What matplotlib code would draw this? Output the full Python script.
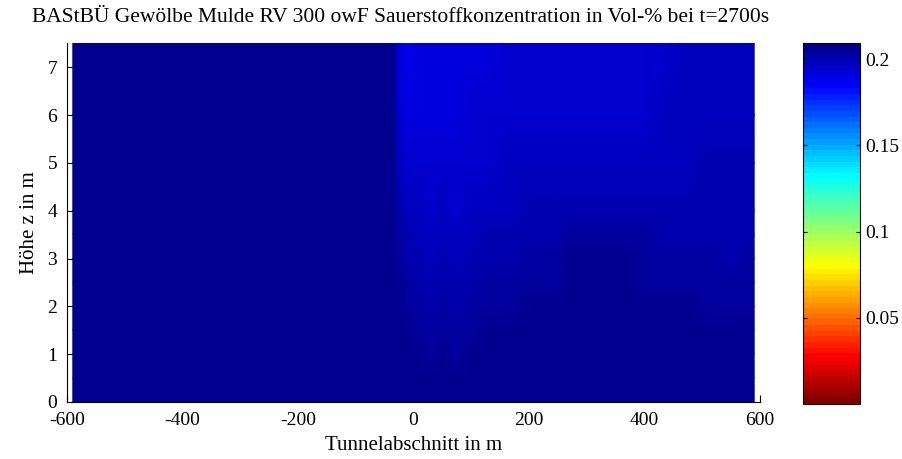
import numpy as np
import matplotlib
matplotlib.use("Agg")
import matplotlib.pyplot as plt
from matplotlib.colors import ListedColormap, Normalize

# Tunnel position (m) and height (m) of the sampling grid
x_m = [-590, -35, -25, -10, 10, 30, 50, 75, 100, 130, 170, 210, 250, 270,
       320, 370, 400, 440, 470, 510, 550, 590]
z_m = [0.0, 0.5, 1.0, 1.5, 2.0, 2.5, 3.0, 3.5, 4.0, 5.0, 6.0, 7.5]

# Oxygen concentration (volume fraction), one row per height
o2_z00 = [0.2093, 0.2093, 0.2091, 0.2089, 0.2086, 0.2085, 0.2086, 0.2084, 0.2085, 0.2086, 0.2087,
          0.2087, 0.2088, 0.2088, 0.2089, 0.2089, 0.2088, 0.2088, 0.2087, 0.2087, 0.2086, 0.2086]
o2_z05 = [0.2093, 0.2093, 0.2089, 0.2085, 0.2079, 0.2076, 0.2078, 0.2075, 0.2077, 0.2080, 0.2082,
          0.2083, 0.2085, 0.2086, 0.2087, 0.2086, 0.2085, 0.2084, 0.2083, 0.2083, 0.2082, 0.2082]
o2_z10 = [0.2093, 0.2092, 0.2085, 0.2076, 0.2064, 0.2050, 0.2063, 0.2048, 0.2066, 0.2072, 0.2075,
          0.2077, 0.2080, 0.2082, 0.2083, 0.2081, 0.2079, 0.2078, 0.2077, 0.2076, 0.2075, 0.2075]
o2_z15 = [0.2093, 0.2092, 0.2079, 0.2065, 0.2044, 0.2031, 0.2040, 0.2028, 0.2046, 0.2062, 0.2068,
          0.2071, 0.2075, 0.2078, 0.2079, 0.2076, 0.2073, 0.2071, 0.2070, 0.2068, 0.2066, 0.2067]
o2_z20 = [0.2093, 0.2091, 0.2070, 0.2049, 0.2032, 0.2018, 0.2030, 0.2012, 0.2035, 0.2043, 0.2052,
          0.2064, 0.2069, 0.2074, 0.2076, 0.2072, 0.2066, 0.2063, 0.2062, 0.2060, 0.2058, 0.2050]
o2_z25 = [0.2093, 0.2090, 0.2062, 0.2036, 0.2014, 0.2003, 0.2010, 0.1998, 0.2015, 0.2030, 0.2040,
          0.2048, 0.2055, 0.2068, 0.2071, 0.2064, 0.2056, 0.2052, 0.2050, 0.2047, 0.2040, 0.2042]
o2_z30 = [0.2093, 0.2089, 0.2050, 0.2018, 0.2000, 0.1988, 0.1997, 0.1985, 0.2004, 0.2010, 0.2018,
          0.2035, 0.2042, 0.2065, 0.2068, 0.2062, 0.2050, 0.2046, 0.2043, 0.2038, 0.2020, 0.2032]
o2_z35 = [0.2093, 0.2088, 0.2040, 0.2005, 0.1985, 0.1975, 0.1982, 0.1972, 0.1986, 0.1998, 0.2004,
          0.2012, 0.2018, 0.2040, 0.2050, 0.2045, 0.2032, 0.2022, 0.2018, 0.2015, 0.2008, 0.2014]
o2_z40 = [0.2093, 0.2087, 0.2020, 0.1985, 0.1970, 0.1958, 0.1966, 0.1955, 0.1968, 0.1978, 0.1988,
          0.2000, 0.2005, 0.2012, 0.2018, 0.2015, 0.2010, 0.2006, 0.2005, 0.2004, 0.2002, 0.2006]
o2_z50 = [0.2093, 0.2086, 0.1985, 0.1950, 0.1945, 0.1940, 0.1944, 0.1938, 0.1946, 0.1955, 0.1965,
          0.1972, 0.1975, 0.1978, 0.1980, 0.1978, 0.1975, 0.1974, 0.1978, 0.1996, 0.2000, 0.2002]
o2_z60 = [0.2093, 0.2085, 0.1948, 0.1918, 0.1922, 0.1920, 0.1925, 0.1927, 0.1935, 0.1940, 0.1945,
          0.1948, 0.1950, 0.1952, 0.1953, 0.1952, 0.1955, 0.1965, 0.1972, 0.1975, 0.1978, 0.1976]
o2_z75 = [0.2093, 0.2085, 0.1925, 0.1888, 0.1905, 0.1910, 0.1915, 0.1918, 0.1920, 0.1926, 0.1935,
          0.1940, 0.1942, 0.1945, 0.1946, 0.1945, 0.1948, 0.1955, 0.1968, 0.1972, 0.1975, 0.1972]

c_min, c_max = 0.0, 0.2093
x_ticks = [-600, -400, -200, 0, 200, 400, 600]
z_ticks = [0, 1, 2, 3, 4, 5, 6, 7]
cb_ticks = [0.05, 0.1, 0.15, 0.2]
cb_labels = ["0.05", "0.1", "0.15", "0.2"]

title = "BAStBÜ Gewölbe Mulde RV 300 owF Sauerstoffkonzentration in Vol-% bei t=2700s"
xlabel = "Tunnelabschnitt in m"
ylabel = "Höhe z in m"

field = np.array([o2_z00, o2_z05, o2_z10, o2_z15, o2_z20, o2_z25,
                  o2_z30, o2_z35, o2_z40, o2_z50, o2_z60, o2_z75])


def jet64():
    """Classic 64-entry jet table (dark blue -> dark red)."""
    m, n = 64, 16
    u = np.concatenate([np.arange(1, n + 1) / n, np.ones(n - 1), np.arange(n, 0, -1) / n])
    g = (n // 2) + np.arange(1, len(u) + 1)
    r = g + n
    b = g - n
    table = np.zeros((m, 3))
    for ch, idx in ((0, r), (1, g), (2, b)):
        ok = (idx >= 1) & (idx <= m)
        table[idx[ok] - 1, ch] = u[ok]
    return table


cmap = ListedColormap(jet64()[::-1])
norm = Normalize(vmin=c_min, vmax=c_max)

plt.rcParams["font.family"] = ["Liberation Serif", "DejaVu Serif"]
plt.rcParams["font.size"] = 14
plt.rcParams["axes.unicode_minus"] = False

fig = plt.figure(figsize=(9.03, 4.59), dpi=100)
ax = fig.add_axes([0.0742, 0.1242, 0.7674, 0.7815])
cax = fig.add_axes([0.8893, 0.1198, 0.0627, 0.786])

mesh = ax.pcolormesh(x_m, z_m, field, shading="gouraud", cmap=cmap, norm=norm)
ax.set_xlim(-600, 600)
ax.set_ylim(0, 7.5)
ax.set_xticks(x_ticks)
ax.set_yticks(z_ticks)
ax.set_axisbelow(True)
for side in ("top", "right"):
    ax.spines[side].set_visible(False)
for side in ("left", "bottom"):
    ax.spines[side].set_linewidth(0.8)
ax.tick_params(direction="in", length=5, width=0.8, labelsize=14)
ax.tick_params(axis="x", pad=7)
ax.tick_params(axis="y", pad=7)
ax.set_title(title, fontsize=15.5, pad=15, x=0.482)
ax.set_xlabel(xlabel, fontsize=15, labelpad=5)
ax.set_ylabel(ylabel, fontsize=15, labelpad=6)

cb = fig.colorbar(mesh, cax=cax)
cb.set_ticks(cb_ticks)
cb.set_ticklabels(cb_labels)
cb.outline.set_linewidth(0.8)
cax.tick_params(direction="in", length=3, width=0.8, left=True, right=True, labelsize=14, pad=4)

fig.savefig("out.png", dpi=100)
